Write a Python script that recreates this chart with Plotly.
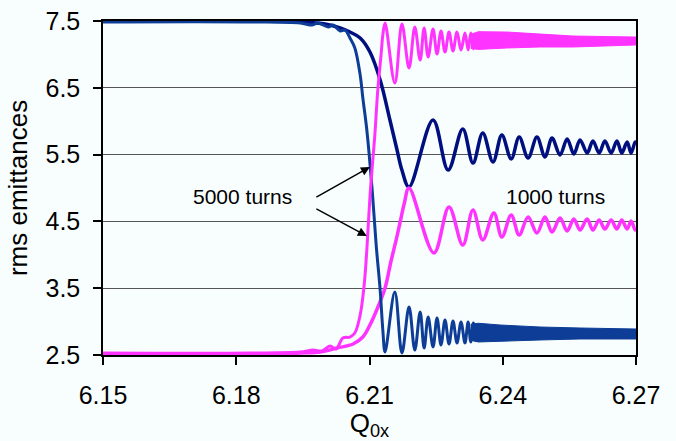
import plotly.graph_objects as go

# ---------------- data ----------------
# 1000 turns, horizontal emittance (navy, drops from 7.5)
navy_x = [6.150, 6.1831, 6.1944, 6.2000, 6.2034, 6.2056, 6.2079, 6.2101, 6.2124, 6.2146,
          6.2162, 6.2173, 6.2189,
          6.2243, 6.2277, 6.2310, 6.2333, 6.2355, 6.2378, 6.2398, 6.2419, 6.2437, 6.2457,
          6.2477, 6.2495, 6.2511, 6.2529, 6.2545, 6.2560, 6.2574, 6.2590, 6.2603, 6.2617,
          6.2630, 6.2644, 6.2657, 6.2668, 6.2680, 6.2689, 6.2698, 6.2700]
navy_y = [7.500, 7.500, 7.485, 7.455, 7.395, 7.335, 7.246, 7.036, 6.617, 6.018,
          5.569, 5.269, 5.015,
          6.018, 5.269, 5.883, 5.374, 5.823, 5.389, 5.793, 5.434, 5.763, 5.449,
          5.763, 5.464, 5.749, 5.494, 5.734, 5.509, 5.719, 5.524, 5.704, 5.524,
          5.704, 5.524, 5.704, 5.524, 5.689, 5.524, 5.689, 5.660]

# 1000 turns, vertical emittance (magenta, rises from 2.5)
pink1_x = [6.150, 6.1831, 6.1944, 6.1989, 6.2027, 6.2063, 6.2085, 6.2101, 6.2119, 6.2135,
           6.2148, 6.2160, 6.2169, 6.2178, 6.2189,
           6.2245, 6.2279, 6.2310, 6.2333, 6.2355, 6.2380, 6.2398, 6.2419, 6.2437, 6.2457,
           6.2477, 6.2495, 6.2511, 6.2529, 6.2545, 6.2560, 6.2574, 6.2590, 6.2603, 6.2617,
           6.2630, 6.2644, 6.2657, 6.2668, 6.2680, 6.2689, 6.2698, 6.2700]
pink1_y = [2.515, 2.515, 2.530, 2.545, 2.605, 2.665, 2.769, 2.949, 3.219, 3.503,
           3.892, 4.222, 4.491, 4.760, 5.000,
           4.027, 4.716, 4.147, 4.671, 4.222, 4.626, 4.266, 4.596, 4.296, 4.566,
           4.326, 4.566, 4.341, 4.551, 4.356, 4.536, 4.371, 4.536, 4.371, 4.521,
           4.386, 4.521, 4.386, 4.521, 4.386, 4.506, 4.371, 4.400]

# 5000 turns, horizontal emittance (blue) - resolved part
blue_x = [6.150, 6.1831, 6.1944, 6.1971, 6.1984, 6.2007, 6.2018, 6.2034, 6.2045, 6.2056,
          6.2067, 6.2079, 6.2085, 6.2094, 6.2106, 6.2115, 6.2124, 6.2130, 6.2135,
          6.2157, 6.2173, 6.2189, 6.2202, 6.2214, 6.2223, 6.2232, 6.2243, 6.2252, 6.2261,
          6.2270, 6.2279, 6.2288, 6.2297, 6.2306, 6.2315, 6.2322, 6.2328, 6.2334, 6.2340]
blue_y = [7.485, 7.485, 7.470, 7.440, 7.470, 7.410, 7.440, 7.350, 7.365, 7.246,
          7.096, 6.692, 6.347, 5.868, 4.970, 4.147, 3.473, 2.874, 2.545,
          3.443, 2.530, 3.219, 2.575, 3.144, 2.605, 3.069, 2.620, 3.054, 2.650,
          3.024, 2.665, 3.009, 2.680, 2.994, 2.680, 2.994, 2.695, 2.979, 2.700]
# 5000 turns, blue - envelope of the densely oscillating tail
blue_env_x = [6.2328, 6.2345, 6.2394, 6.2484, 6.2574, 6.2700]
blue_env_top = [2.960, 2.975, 2.949, 2.919, 2.904, 2.889]
blue_env_bot = [2.720, 2.695, 2.710, 2.725, 2.740, 2.740]

# 5000 turns, vertical emittance (magenta) - resolved part
pink5_x = [6.150, 6.1831, 6.1944, 6.1973, 6.1993, 6.2011, 6.2025, 6.2040, 6.2056, 6.2067,
           6.2079, 6.2088, 6.2094, 6.2101, 6.2108, 6.2112, 6.2119, 6.2126, 6.2130, 6.2135,
           6.2157, 6.2173, 6.2189, 6.2202, 6.2214, 6.2223, 6.2232, 6.2243, 6.2252, 6.2261,
           6.2270, 6.2279, 6.2288, 6.2297, 6.2306, 6.2315, 6.2322, 6.2328, 6.2334, 6.2340]
pink5_y = [2.530, 2.530, 2.545, 2.575, 2.560, 2.635, 2.590, 2.754, 2.769, 2.829,
           3.099, 3.548, 4.072, 4.865, 5.464, 5.793, 6.497, 6.991, 7.290, 7.470,
           6.570, 7.455, 6.796, 7.410, 6.916, 7.395, 6.961, 7.380, 7.006, 7.350,
           7.036, 7.335, 7.051, 7.335, 7.066, 7.320, 7.066, 7.320, 7.081, 7.310]
pink5_env_x = [6.2328, 6.2345, 6.2409, 6.2484, 6.2558, 6.2700]
pink5_env_top = [7.300, 7.340, 7.335, 7.305, 7.275, 7.260]
pink5_env_bot = [7.090, 7.075, 7.096, 7.111, 7.111, 7.141]

x_ticks = [6.15, 6.18, 6.21, 6.24, 6.27]
x_ticktext = ["6.15", "6.18", "6.21", "6.24", "6.27"]
y_ticks = [2.5, 3.5, 4.5, 5.5, 6.5, 7.5]
y_ticktext = ["2.5", "3.5", "4.5", "5.5", "6.5", "7.5"]

# ---------------- styling ----------------
NAVY = "#000f80"
BLUE = "#0d3d96"
PINK = "#ff33ff"
BG = "#f8fefe"
FONT = "Liberation Sans, Arial, Helvetica, sans-serif"

fig = go.Figure()

fig.add_trace(go.Scatter(x=navy_x, y=navy_y, mode="lines",
                         line=dict(color=NAVY, width=3.5, shape="spline", smoothing=1.0),
                         showlegend=False, hoverinfo="skip"))
fig.add_trace(go.Scatter(x=pink1_x, y=pink1_y, mode="lines",
                         line=dict(color=PINK, width=3.5, shape="spline", smoothing=1.0),
                         showlegend=False, hoverinfo="skip"))

# blue 5000 turns
fig.add_trace(go.Scatter(x=blue_env_x + blue_env_x[::-1],
                         y=blue_env_top + blue_env_bot[::-1],
                         mode="lines", fill="toself", fillcolor=BLUE,
                         line=dict(color=BLUE, width=1),
                         showlegend=False, hoverinfo="skip"))
fig.add_trace(go.Scatter(x=blue_x, y=blue_y, mode="lines",
                         line=dict(color=BLUE, width=3, shape="spline", smoothing=1.0),
                         showlegend=False, hoverinfo="skip"))

# magenta 5000 turns
fig.add_trace(go.Scatter(x=pink5_env_x + pink5_env_x[::-1],
                         y=pink5_env_top + pink5_env_bot[::-1],
                         mode="lines", fill="toself", fillcolor=PINK,
                         line=dict(color=PINK, width=1),
                         showlegend=False, hoverinfo="skip"))
fig.add_trace(go.Scatter(x=pink5_x, y=pink5_y, mode="lines",
                         line=dict(color=PINK, width=3, shape="spline", smoothing=1.0),
                         showlegend=False, hoverinfo="skip"))

annotations = [
    dict(x=6.1813, y=4.87, xref="x", yref="y", text="5000 turns", showarrow=False,
         font=dict(size=21, color="black", family=FONT), xanchor="center", yanchor="middle"),
    dict(x=6.2518, y=4.87, xref="x", yref="y", text="1000 turns", showarrow=False,
         font=dict(size=21, color="black", family=FONT), xanchor="center", yanchor="middle"),
    dict(x=6.2101, y=5.314, ax=6.1977, ay=4.850, xref="x", yref="y", axref="x", ayref="y",
         text="", showarrow=True, arrowhead=2, arrowsize=1.2, arrowwidth=1.5,
         arrowcolor="black", standoff=0, startstandoff=0),
    dict(x=6.2094, y=4.281, ax=6.1977, ay=4.700, xref="x", yref="y", axref="x", ayref="y",
         text="", showarrow=True, arrowhead=2, arrowsize=1.2, arrowwidth=1.5,
         arrowcolor="black", standoff=0, startstandoff=0),
]

fig.update_layout(
    width=676, height=441,
    margin=dict(l=103, r=40, t=21, b=86),
    paper_bgcolor=BG, plot_bgcolor=BG,
    font=dict(family=FONT, color="black"),
    annotations=annotations,
    xaxis=dict(range=[6.15, 6.27], tickvals=x_ticks, ticktext=x_ticktext,
               ticks="outside", ticklen=8, tickwidth=1.5, tickcolor="black",
               showline=True, linecolor="black", linewidth=1.5, mirror=True,
               showgrid=False, zeroline=False, ticklabelstandoff=9, automargin=False,
               tickfont=dict(size=25, family=FONT, color="black"),
               title=dict(text="Q<sub>0x</sub>", font=dict(size=26, family=FONT, color="black"),
                          standoff=4)),
    yaxis=dict(range=[2.5, 7.5], tickvals=y_ticks, ticktext=y_ticktext,
               ticks="outside", ticklen=8, tickwidth=1.5, tickcolor="black",
               showline=True, linecolor="black", linewidth=1.5, mirror=True,
               showgrid=True, gridcolor="#555555", gridwidth=1, zeroline=False,
               ticklabelstandoff=8, automargin=False,
               tickfont=dict(size=25, family=FONT, color="black"),
               title=dict(text="rms emittances", font=dict(size=26, family=FONT, color="black"),
                          standoff=10)),
)

fig.write_html("out.html")
